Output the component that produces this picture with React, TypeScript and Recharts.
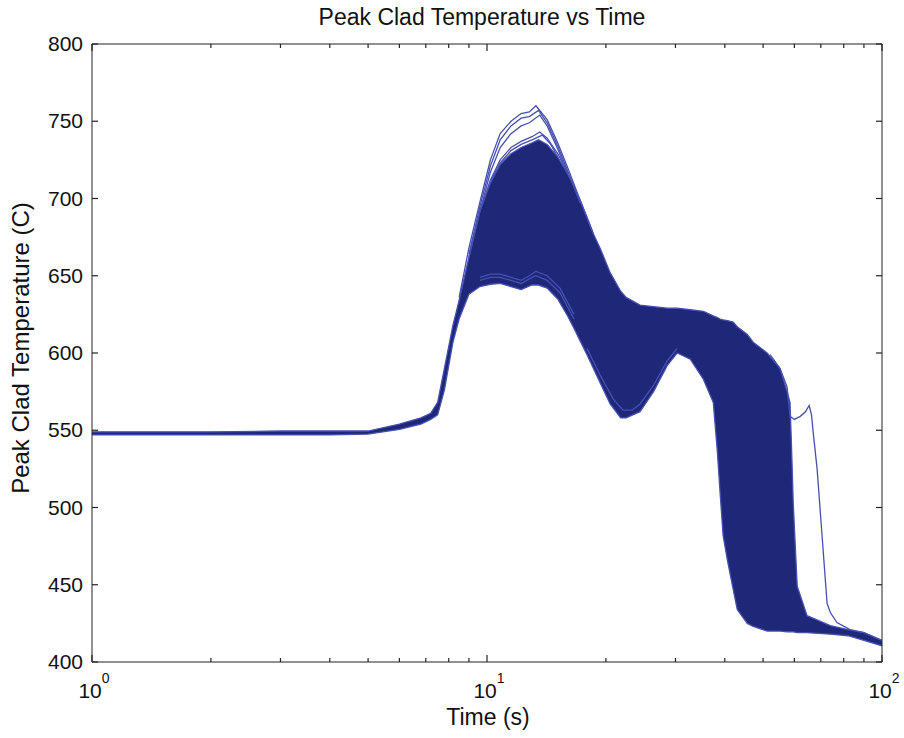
import { ComposedChart, Area, Line, XAxis, YAxis } from "recharts";

const FONT = '"Liberation Sans", Arial, Helvetica, sans-serif';

// envelope of the dense bundle of runs
const bandTime = [1, 2, 3, 4, 5, 6, 6.8, 7.2, 7.5, 7.8, 8.2, 8.5, 9.0, 9.6, 10.2, 10.8, 11.5, 12.2, 13.0, 13.5, 14.2, 15.1, 16.0, 16.6, 17.2, 17.9, 18.6, 19.4, 20.5, 21.8, 22.5, 24.4, 26.4, 28.6, 30.3, 32.7, 35.3, 37.4, 38.3, 38.9, 39.6, 40.6, 42, 43, 45.6, 47.2, 51.2, 55.2, 57.5, 58.5, 59, 59.6, 61, 64.6, 74, 82, 90, 100];
const bandLow = [547, 547, 547, 547, 547.5, 550.5, 554, 557, 560, 576, 607, 622, 638, 643, 644.5, 645, 643, 641, 644, 644, 642, 635, 624, 616, 608, 599, 590, 580, 567, 558, 558, 562, 575, 592, 600, 596, 583, 568, 536, 510, 482, 466, 447, 434, 425, 423, 420, 420, 419.5, 419.5, 419.5, 419.5, 419, 419, 418, 417, 414, 410.5];
const bandHigh = [549, 549, 549.5, 549.5, 549.5, 554, 558, 561, 568, 590, 618, 634, 662, 692, 710, 722, 729, 733, 736, 738, 735, 727, 716, 708, 699, 688, 677, 667, 652, 640, 636, 631, 630, 629, 629, 628, 627, 624, 623, 622, 621.5, 621, 620, 617, 612, 607, 600, 590, 575, 568, 540, 503, 449, 430, 423.5, 421, 419, 414];

// individual runs that stand out from the bundle
const topATime = [8.5, 9.0, 9.6, 10.2, 10.8, 11.5, 12.2, 12.8, 13.3, 14.2, 15.1, 16.0, 17.2, 18.6];
const topATemp = [636, 668, 698, 725, 742, 750, 755, 756, 760, 751, 736, 720, 699, 677];
const topBTime = [9.0, 9.6, 10.2, 10.8, 11.5, 12.2, 12.8, 13.5, 14.2, 15.1, 16.0, 17.2];
const topBTemp = [664, 695, 721, 738, 747, 752, 753, 757, 749, 734, 718, 697];
const topCTime = [9.0, 9.6, 10.2, 10.8, 11.5, 12.2, 12.8, 13.6, 14.2, 15.1, 16.0];
const topCTemp = [662, 692, 717, 733, 742, 747, 749, 754, 747, 732, 716];
const topDTime = [9.6, 10.2, 10.8, 11.5, 12.2, 13.0, 13.6, 14.2, 15.1, 16.0];
const topDTemp = [692, 712, 725, 733, 737, 740, 743, 739, 729, 717];
const topETime = [10.2, 10.8, 11.5, 12.2, 13.0, 13.8, 14.5, 15.1];
const topETemp = [711, 723, 731, 735, 738, 741, 735, 727];
const lowATime = [9.6, 10.2, 10.8, 11.5, 12.2, 12.8, 13.3, 14.2, 15.3, 16.6];
const lowATemp = [647, 649, 649, 647, 645, 648, 650, 647, 639, 622];
const lowBTime = [9.6, 10.2, 10.8, 11.5, 12.2, 12.8, 13.3, 14.2, 15.3, 16.6];
const lowBTemp = [649, 651, 651, 649, 647, 650, 653, 650, 642, 625];
const valleyTime = [17.9, 19.4, 20.9, 22.1, 23.3, 24.4, 26.4, 28.6, 30.3];
const valleyTemp = [603, 585, 570, 563, 563, 567, 579, 595, 603];
const outlierTime = [52.1, 55.2, 57.5, 58.5, 60, 62.1, 64, 65.4, 66.3, 67, 68.5, 70.5, 72.6, 74, 76.9, 83, 90, 100];
const outlierTemp = [599, 590, 578, 559, 557, 559, 562, 566, 560, 548, 525, 482, 438, 432, 425.5, 421, 419, 414];

const xTicks = [1, 2, 3, 4, 5, 6, 7, 8, 9, 10, 20, 30, 40, 50, 60, 70, 80, 90, 100];
const yTicks = [400, 450, 500, 550, 600, 650, 700, 750, 800];

const bandData = bandTime.map((t, i) => ({ t, range: [bandLow[i], bandHigh[i]] }));
const pts = (ts: number[], vs: number[]) => ts.map((t, i) => ({ t, v: vs[i] }));

const runs = [
  pts(topATime, topATemp),
  pts(topBTime, topBTemp),
  pts(topCTime, topCTemp),
  pts(topDTime, topDTemp),
  pts(topETime, topETemp),
  pts(lowATime, lowATemp),
  pts(lowBTime, lowBTemp),
  pts(valleyTime, valleyTemp),
  pts(outlierTime, outlierTemp),
];

const BAND = "#1f2878";
const EDGE = "#4650b0";
const AXIS = "#222";

const isDecade = (v: number) => v === 1 || v === 10 || v === 100;

const BottomTick = (props: any) => {
  const { x, y, payload } = props;
  const v = payload.value;
  return (
    <g>
      <line x1={x} x2={x} y1={y} y2={y - (isDecade(v) ? 7 : 4)} stroke={AXIS} strokeWidth={1.2} />
      {isDecade(v) && (
        <text x={x + 2} y={y + 36} textAnchor="middle" fontFamily={FONT} fontSize={21} fill="#111">
          10
          <tspan dy={-15} fontSize={14}>
            {Math.round(Math.log10(v))}
          </tspan>
        </text>
      )}
    </g>
  );
};

const TopTick = (props: any) => {
  const { x, y, payload } = props;
  return <line x1={x} x2={x} y1={y} y2={y + (isDecade(payload.value) ? 7 : 4)} stroke={AXIS} strokeWidth={1.2} />;
};

const LeftTick = (props: any) => {
  const { x, y, payload } = props;
  return (
    <g>
      <line x1={x} x2={x + 6} y1={y} y2={y} stroke={AXIS} strokeWidth={1.2} />
      <text x={x - 9} y={y + 7} textAnchor="end" fontFamily={FONT} fontSize={21} fill="#111">
        {payload.value}
      </text>
    </g>
  );
};

const RightTick = (props: any) => {
  const { x, y } = props;
  return <line x1={x} x2={x - 6} y1={y} y2={y} stroke={AXIS} strokeWidth={1.2} />;
};

const labelStyle = { position: "absolute" as const, fontFamily: FONT, fontSize: 23, color: "#111", whiteSpace: "nowrap" as const };

export default function App() {
  return (
    <div style={{ position: "absolute", left: 0, top: 0, width: 904, height: 738, background: "#fff" }}>
      <ComposedChart width={904} height={738} margin={{ top: 34, right: 12, bottom: 36, left: 42 }}>
        <XAxis
          dataKey="t"
          type="number"
          scale="log"
          domain={[1, 100]}
          allowDataOverflow
          ticks={xTicks}
          interval={0}
          tickSize={0}
          tickMargin={0}
          height={40}
          axisLine={{ stroke: AXIS }}
          tick={(p: any) => <BottomTick {...p} />}
        />
        <XAxis
          xAxisId="top"
          orientation="top"
          dataKey="t"
          type="number"
          scale="log"
          domain={[1, 100]}
          allowDataOverflow
          ticks={xTicks}
          interval={0}
          tickSize={0}
          tickMargin={0}
          height={10}
          axisLine={{ stroke: AXIS }}
          tick={(p: any) => <TopTick {...p} />}
        />
        <YAxis
          type="number"
          domain={[400, 800]}
          allowDataOverflow
          ticks={yTicks}
          interval={0}
          tickSize={0}
          tickMargin={0}
          width={50}
          axisLine={{ stroke: AXIS }}
          tick={(p: any) => <LeftTick {...p} />}
        />
        <YAxis
          yAxisId="right"
          orientation="right"
          type="number"
          domain={[400, 800]}
          allowDataOverflow
          ticks={yTicks}
          interval={0}
          tickSize={0}
          tickMargin={0}
          width={10}
          axisLine={{ stroke: AXIS }}
          tick={(p: any) => <RightTick {...p} />}
        />
        <Area
          data={bandData}
          dataKey="range"
          type="linear"
          stroke={EDGE}
          strokeWidth={1.3}
          fill={BAND}
          fillOpacity={1}
          isAnimationActive={false}
        />
        {runs.map((d, i) => (
          <Line
            key={i}
            data={d}
            dataKey="v"
            type="linear"
            stroke={EDGE}
            strokeWidth={1.3}
            dot={false}
            isAnimationActive={false}
          />
        ))}
      </ComposedChart>
      <div style={{ ...labelStyle, left: 482, top: 4, transform: "translateX(-50%)" }}>Peak Clad Temperature vs Time</div>
      <div style={{ ...labelStyle, left: 488, top: 704, transform: "translateX(-50%)" }}>Time (s)</div>
      <div style={{ ...labelStyle, left: 21, top: 348, fontSize: 24, transform: "translate(-50%, -50%) rotate(-90deg)" }}>
        Peak Clad Temperature (C)
      </div>
    </div>
  );
}
